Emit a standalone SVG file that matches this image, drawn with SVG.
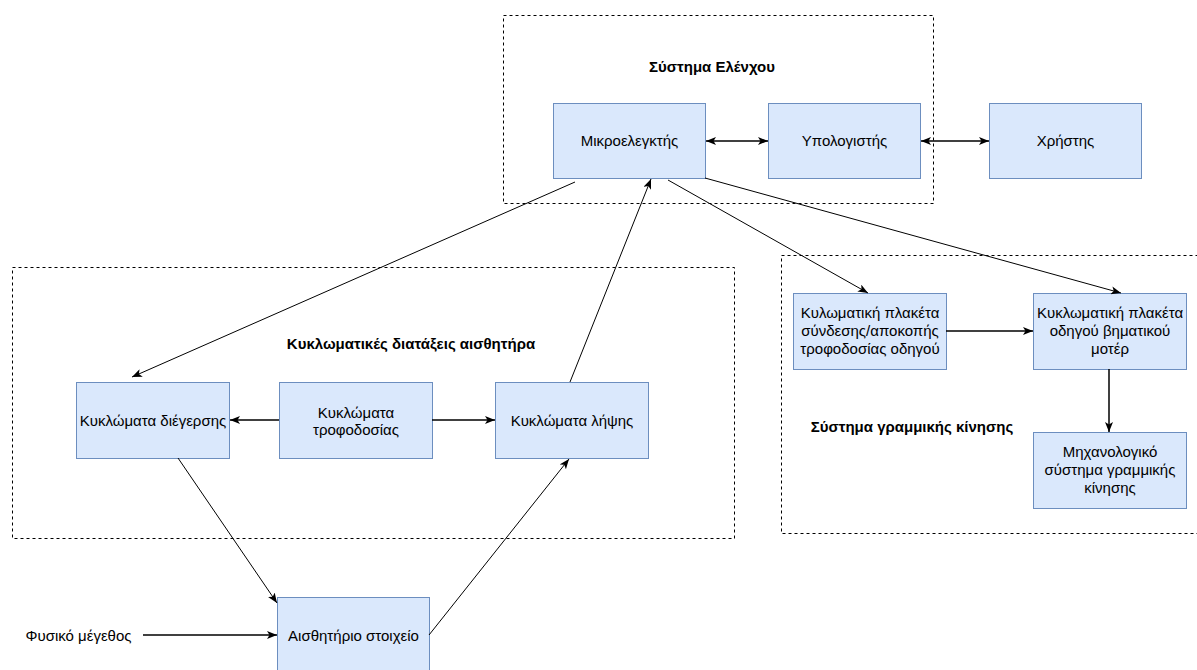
<svg xmlns="http://www.w3.org/2000/svg" width="1197" height="670" viewBox="0 0 1197 670">
  <style>
    .grp { fill: none; stroke: #000; stroke-width: 1; stroke-dasharray: 3 3; }
    .blk { fill: #dae8fc; stroke: #6c8ebf; stroke-width: 1; }
    .lbl { font-family: "Liberation Sans", Arial, sans-serif; font-size: 15px; fill: #000; text-anchor: middle; }
    .ttl { font-family: "Liberation Sans", Arial, sans-serif; font-size: 15px; font-weight: bold; fill: #000; text-anchor: middle; }
    .wire { fill: none; stroke: #000; stroke-width: 1; }
    .wire2 { fill: none; stroke: #000; stroke-width: 1.5; }
  </style>
  <defs>
    <marker id="arrow" viewBox="0 0 10 8" refX="10" refY="4" markerWidth="10" markerHeight="8" markerUnits="userSpaceOnUse" orient="auto-start-reverse">
      <path d="M0,0 L10,4 L0,8 L2.5,4 z" fill="#000"/>
    </marker>
  </defs>

  <rect width="1197" height="670" fill="#fff"/>

  <!-- dashed group frames -->
  <g id="group-control">
    <rect class="grp" x="503.5" y="15.5" width="430" height="188"/>
    <text class="ttl" x="712" y="72">Σύστημα Ελένχου</text>
  </g>
  <g id="group-sensor">
    <rect class="grp" x="12.5" y="267.5" width="722" height="271"/>
    <text class="ttl" x="411" y="349">Κυκλωματικές διατάξεις αισθητήρα</text>
  </g>
  <g id="group-motion">
    <rect class="grp" x="781.5" y="255.5" width="430" height="278"/>
    <text class="ttl" x="912" y="432">Σύστημα γραμμικής κίνησης</text>
  </g>

  <!-- blocks -->
  <g id="mcu">
    <rect class="blk" x="553.5" y="103.5" width="152" height="75"/>
    <text class="lbl" x="629.5" y="146">Μικροελεγκτής</text>
  </g>
  <g id="computer">
    <rect class="blk" x="768.5" y="103.5" width="152" height="75"/>
    <text class="lbl" x="844.5" y="146">Υπολογιστής</text>
  </g>
  <g id="user">
    <rect class="blk" x="989.5" y="103.5" width="152" height="75"/>
    <text class="lbl" x="1065.5" y="146">Χρήστης</text>
  </g>
  <g id="excitation">
    <rect class="blk" x="76.5" y="382.5" width="153" height="76"/>
    <text class="lbl" x="153" y="426">Κυκλώματα διέγερσης</text>
  </g>
  <g id="power">
    <rect class="blk" x="279.5" y="382.5" width="153" height="76"/>
    <text class="lbl" x="356" y="418">Κυκλώματα</text>
    <text class="lbl" x="356" y="435">τροφοδοσίας</text>
  </g>
  <g id="receiver">
    <rect class="blk" x="495.5" y="382.5" width="153" height="76"/>
    <text class="lbl" x="572" y="426">Κυκλώματα λήψης</text>
  </g>
  <g id="sensor">
    <rect class="blk" x="277.5" y="597.5" width="152" height="76"/>
    <text class="lbl" x="353.5" y="641">Αισθητήριο στοιχείο</text>
  </g>
  <g id="quantity">
    <text class="lbl" x="78.5" y="641">Φυσικό μέγεθος</text>
  </g>
  <g id="switch-board">
    <rect class="blk" x="793.5" y="293.5" width="153" height="76"/>
    <text class="lbl" x="870" y="318">Κυλωματική πλακέτα</text>
    <text class="lbl" x="870" y="336">σύνδεσης/αποκοπής</text>
    <text class="lbl" x="870" y="354">τροφοδοσίας οδηγού</text>
  </g>
  <g id="driver-board">
    <rect class="blk" x="1033.5" y="293.5" width="153" height="76"/>
    <text class="lbl" x="1110" y="318">Κυκλωματική πλακέτα</text>
    <text class="lbl" x="1110" y="336">οδηγού βηματικού</text>
    <text class="lbl" x="1110" y="354">μοτέρ</text>
  </g>
  <g id="mechanics">
    <rect class="blk" x="1033.5" y="432.5" width="153" height="76"/>
    <text class="lbl" x="1110" y="457">Μηχανολογικό</text>
    <text class="lbl" x="1110" y="475">σύστημα γραμμικής</text>
    <text class="lbl" x="1110" y="493">κίνησης</text>
  </g>

  <!-- connectors -->
  <g id="connectors">
    <line class="wire2" x1="706" y1="141" x2="768" y2="141" marker-start="url(#arrow)" marker-end="url(#arrow)"/>
    <line class="wire2" x1="921" y1="141" x2="989" y2="141" marker-start="url(#arrow)" marker-end="url(#arrow)"/>
    <line class="wire" x1="575" y1="182" x2="132" y2="377" marker-end="url(#arrow)"/>
    <line class="wire" x1="570" y1="382" x2="651" y2="179" marker-end="url(#arrow)"/>
    <line class="wire" x1="668" y1="180" x2="868" y2="293" marker-end="url(#arrow)"/>
    <line class="wire" x1="705" y1="178" x2="1121" y2="293" marker-end="url(#arrow)"/>
    <line class="wire2" x1="279" y1="420" x2="230" y2="420" marker-end="url(#arrow)"/>
    <line class="wire2" x1="432" y1="420" x2="495" y2="420" marker-end="url(#arrow)"/>
    <line class="wire" x1="178" y1="458" x2="277" y2="603" marker-end="url(#arrow)"/>
    <line class="wire" x1="429" y1="635" x2="569" y2="459" marker-end="url(#arrow)"/>
    <line class="wire2" x1="143" y1="635" x2="277" y2="635" marker-end="url(#arrow)"/>
    <line class="wire2" x1="946" y1="331" x2="1033" y2="331" marker-end="url(#arrow)"/>
    <line class="wire2" x1="1109" y1="369" x2="1109" y2="432" marker-end="url(#arrow)"/>
  </g>
</svg>
